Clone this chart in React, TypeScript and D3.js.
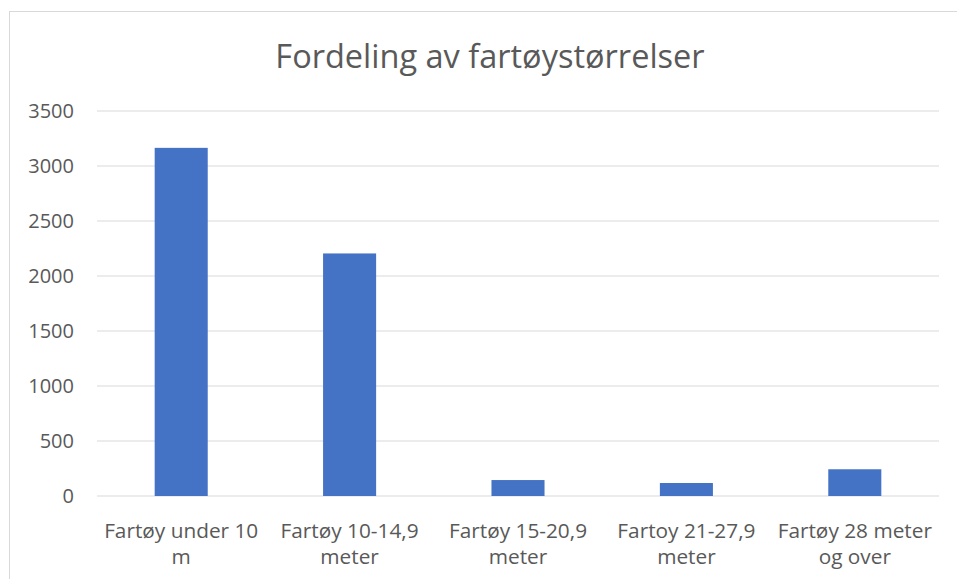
import React from "react";
import * as d3 from "d3";

const categories = [
  "Fartøy under 10 m",
  "Fartøy 10-14,9 meter",
  "Fartøy 15-20,9 meter",
  "Fartoy 21-27,9 meter",
  "Fartøy 28 meter og over",
];
const categoryLines = [
  ["Fartøy under 10", "m"],
  ["Fartøy 10-14,9", "meter"],
  ["Fartøy 15-20,9", "meter"],
  ["Fartoy 21-27,9", "meter"],
  ["Fartøy 28 meter", "og over"],
];
const values = [3165, 2205, 145, 118, 243];
const yTicks = [0, 500, 1000, 1500, 2000, 2500, 3000, 3500];
const title = "Fordeling av fartøystørrelser";

const W = 957;
const H = 579;
const FONT = "'Open Sans', 'Liberation Sans', sans-serif";
const TEXT = "#595959";
const GRID = "#d9d9d9";
const BAR = "#4472C4";

export default function App() {
  const plotLeft = 97;
  const plotRight = 939;
  const plotTop = 111;
  const plotBottom = 496;

  const x = d3
    .scaleBand<string>()
    .domain(categories)
    .range([plotLeft, plotRight])
    .paddingInner(0.685)
    .paddingOuter(0.3425);
  const y = d3.scaleLinear().domain([0, 3500]).range([plotBottom, plotTop]);

  return (
    <svg
      width={W}
      height={H}
      style={{ position: "absolute", left: 0, top: 0, background: "#fff" }}
      fontFamily={FONT}
    >
      <rect x={9.5} y={11.5} width={W + 20} height={H + 20} fill="#fff" stroke={GRID} strokeWidth={1} />
      <text x={490} y={68} textAnchor="middle" fontSize={32.5} fill={TEXT}>
        {title}
      </text>
      {yTicks.map((t) => (
        <g key={t}>
          <line x1={plotLeft} x2={plotRight} y1={y(t)} y2={y(t)} stroke={GRID} strokeWidth={1.2} />
          <text x={74} y={y(t)} dy="0.36em" textAnchor="end" fontSize={20} fill={TEXT}>
            {t}
          </text>
        </g>
      ))}
      {categories.map((c, i) => (
        <rect
          key={c}
          x={x(c)}
          y={y(values[i])}
          width={x.bandwidth()}
          height={y(0) - y(values[i])}
          fill={BAR}
        />
      ))}
      {categories.map((c, i) => (
        <text
          key={c}
          x={(x(c) as number) + x.bandwidth() / 2}
          y={538}
          textAnchor="middle"
          fontSize={20.8}
          fill={TEXT}
        >
          {categoryLines[i].map((line, j) => (
            <tspan key={j} x={(x(c) as number) + x.bandwidth() / 2} dy={j === 0 ? 0 : 26}>
              {line}
            </tspan>
          ))}
        </text>
      ))}
    </svg>
  );
}
